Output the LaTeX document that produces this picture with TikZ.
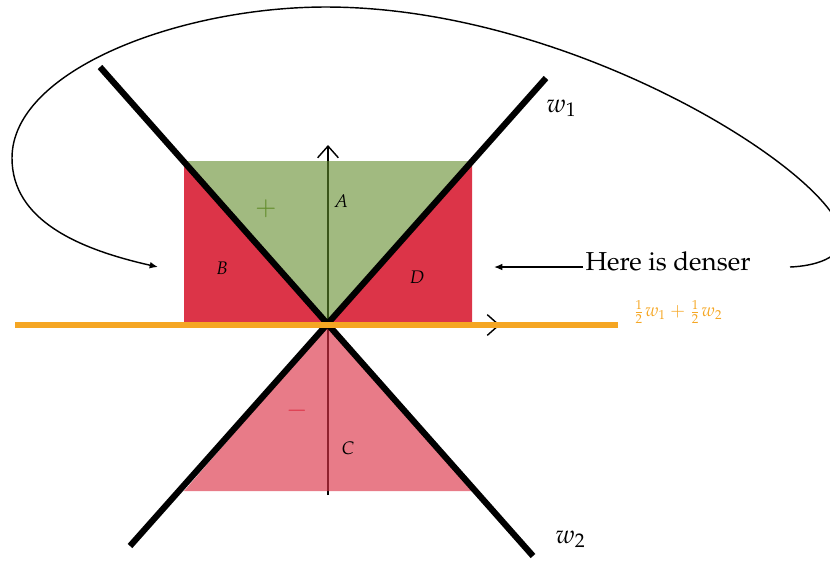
\documentclass[tikz,border=0pt]{standalone}
\usepackage[T1]{fontenc}
\usepackage{mathpazo}
\usetikzlibrary{arrows.meta}
\definecolor{gfill}{RGB}{98,140,43}
\definecolor{rfill}{RGB}{220,52,72}
\definecolor{orng}{RGB}{245,166,35}
\begin{document}
\begin{tikzpicture}[x=0.385pt,y=-0.385pt,
  thickline/.style={line width=2.4pt},
  axisline/.style={line width=0.55pt,-{Straight Barb[length=4.5pt,width=8pt]}},
  region/.style={font=\scriptsize},
  notearrow/.style={-{Latex[length=3.2pt,width=2.6pt]}, line width=0.55pt}]
\useasboundingbox (0,0) rectangle (830,561);
\coordinate (O) at (328,325);
% red regions B and D
\fill[rfill] (184,161) -- (O) -- (184,325) -- cycle;
\fill[rfill] (472,161) -- (O) -- (472,325) -- cycle;
% axes
\coordinate (ybot) at (328,495);
\coordinate (ytop) at (328,145);
\coordinate (xend) at (500,325);
\draw[axisline] (ybot) -- (ytop);
\draw[axisline] (O) -- (xend);
% green and pink regions
\fill[gfill, fill opacity=0.6] (184,161) -- (472,161) -- (O) -- cycle;
\fill[rfill, fill opacity=0.65] (O) -- (184,491) -- (472,491) -- cycle;
% w lines
\coordinate (w1a) at (130,546);
\coordinate (w1b) at (546,78);
\coordinate (w2a) at (100,67);
\coordinate (w2b) at (533,556);
\draw[thickline] (w1a) -- (w1b);
\draw[thickline] (w2a) -- (w2b);
% orange line
\coordinate (oa) at (15,325);
\coordinate (ob) at (618,325);
\draw[orng, line width=2.3pt] (oa) -- (ob);
% labels
\node[anchor=base west, inner sep=0] (w1) at (546,112) {$w_1$};
\node[anchor=base west, inner sep=0] (w2) at (555,543) {$w_2$};
\node[region] (A) at (341,201) {$A$};
\node[region] (B) at (222,268) {$B$};
\node[region] (C) at (348,448) {$C$};
\node[region] (D) at (417,277) {$D$};
\node[text=gfill] (plus) at (266,209) {$+$};
\node[text=rfill] (minus) at (297,411) {$-$};
\node[orng, font=\scriptsize, anchor=west, inner sep=0] (half) at (632,312) {$\frac{1}{2}w_1+\frac{1}{2}w_2$};
\node[anchor=base west, inner sep=0] (denser) at (585,270) {Here is denser};
% arrows
\coordinate (ds) at (583,267);
\coordinate (de) at (494,267);
\draw[notearrow] (ds) -- (de);
\coordinate (cs) at (790,267);
\coordinate (ce) at (158,267);
\draw[notearrow] (cs) .. controls (815,266) and (842,258) .. (842,238)
  .. controls (842,178) and (576,7) .. (326,7)
  .. controls (180,7) and (12,70) .. (12,158)
  .. controls (12,220) and (78,249) .. (ce);
\end{tikzpicture}
\end{document}
